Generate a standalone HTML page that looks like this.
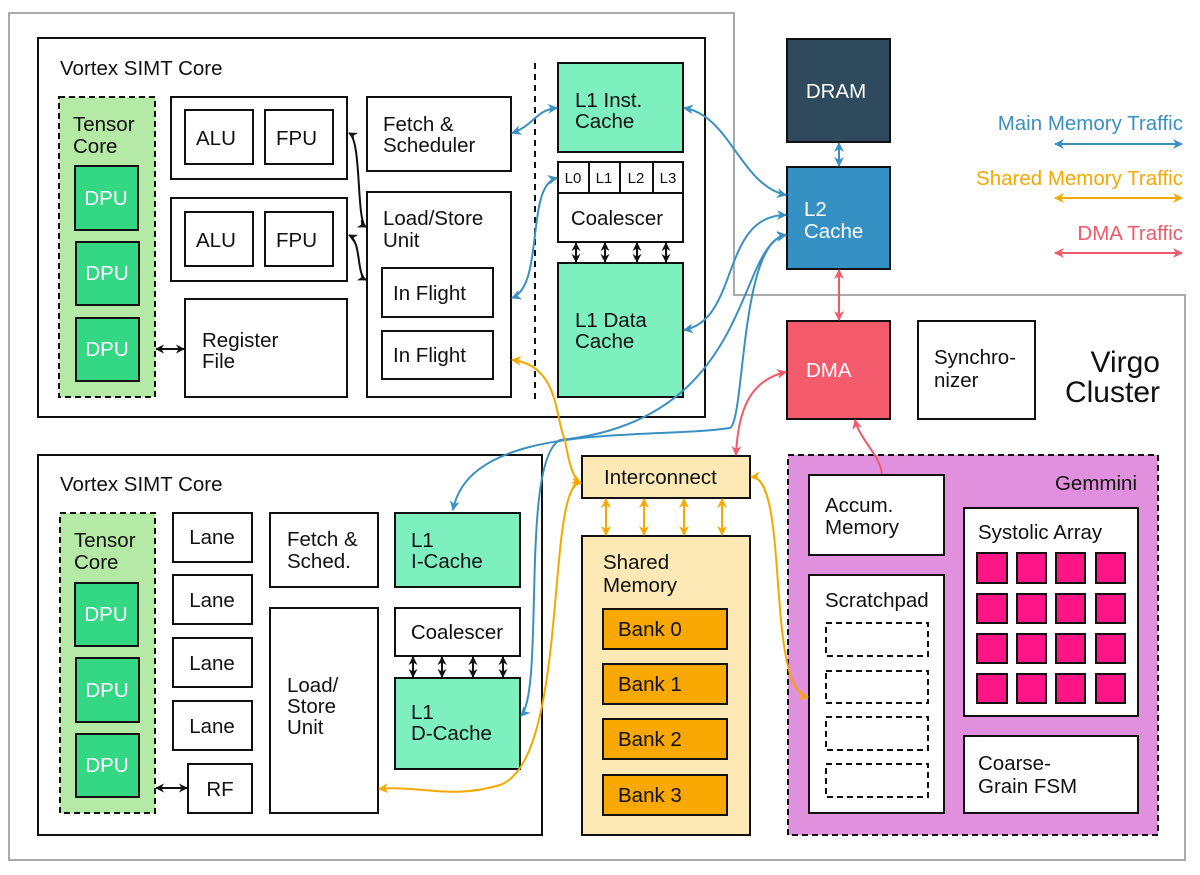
<!DOCTYPE html>
<html><head><meta charset="utf-8"><style>html,body{margin:0;padding:0;background:#fff}svg{display:block}</style></head>
<body>
<svg width="1200" height="875" viewBox="0 0 1200 875" xmlns="http://www.w3.org/2000/svg" font-family="Liberation Sans, sans-serif" font-size="20.5">
<defs>
<marker id="mk" viewBox="0 0 10 10" refX="9" refY="5" markerWidth="9" markerHeight="9" markerUnits="userSpaceOnUse" orient="auto-start-reverse"><path d="M0,0 L10,5 L0,10 L3,5 z" fill="#111"/></marker>
<marker id="mb" viewBox="0 0 10 10" refX="9" refY="5" markerWidth="10" markerHeight="10" markerUnits="userSpaceOnUse" orient="auto-start-reverse"><path d="M0,0 L10,5 L0,10 L3,5 z" fill="#3a90c0"/></marker>
<marker id="mo" viewBox="0 0 10 10" refX="9" refY="5" markerWidth="10" markerHeight="10" markerUnits="userSpaceOnUse" orient="auto-start-reverse"><path d="M0,0 L10,5 L0,10 L3,5 z" fill="#f5a800"/></marker>
<marker id="mr" viewBox="0 0 10 10" refX="9" refY="5" markerWidth="10" markerHeight="10" markerUnits="userSpaceOnUse" orient="auto-start-reverse"><path d="M0,0 L10,5 L0,10 L3,5 z" fill="#f05a6a"/></marker>
</defs>
<path d="M9,13 H734 V295 H1185 V860 H9 Z" fill="none" stroke="#aaa" stroke-width="2"/>

<g stroke="#111" stroke-width="2">
<rect x="38" y="38" width="667" height="379" fill="#fff"/>
<rect x="59" y="97" width="96" height="300" fill="#b4eaa6" stroke-dasharray="6,4"/>
<rect x="75" y="166" width="63" height="64" fill="#34d884"/>
<rect x="76" y="242" width="63" height="63" fill="#34d884"/>
<rect x="76" y="318" width="63" height="63" fill="#34d884"/>
<rect x="171" y="97" width="176" height="82" fill="#fff"/>
<rect x="185" y="110" width="68" height="54" fill="#fff"/>
<rect x="265" y="110" width="68" height="54" fill="#fff"/>
<rect x="171" y="198" width="176" height="83" fill="#fff"/>
<rect x="185" y="212" width="68" height="54" fill="#fff"/>
<rect x="265" y="212" width="68" height="54" fill="#fff"/>
<rect x="185" y="299" width="162" height="98" fill="#fff"/>
<rect x="367" y="97" width="144" height="74" fill="#fff"/>
<rect x="367" y="192" width="144" height="205" fill="#fff"/>
<rect x="382" y="268" width="111" height="49" fill="#fff"/>
<rect x="382" y="331" width="111" height="48" fill="#fff"/>
<line x1="535" y1="63" x2="535" y2="402" stroke-dasharray="6,5"/>
<rect x="558" y="63" width="125" height="89" fill="#7ef0c0"/>
<rect x="558" y="162" width="125" height="31" fill="#fff"/>
<line x1="589" y1="162" x2="589" y2="193"/><line x1="620" y1="162" x2="620" y2="193"/><line x1="653" y1="162" x2="653" y2="193"/>
<rect x="558" y="193" width="125" height="49" fill="#fff"/>
<rect x="558" y="263" width="125" height="134" fill="#7ef0c0"/>

<rect x="787" y="39" width="103" height="103" fill="#2e4a5c"/>
<rect x="787" y="167" width="103" height="102" fill="#3590c4"/>
<rect x="787" y="321" width="103" height="98" fill="#f45b6c"/>
<rect x="918" y="321" width="117" height="98" fill="#fff"/>

<rect x="38" y="455" width="504" height="380" fill="#fff"/>
<rect x="60" y="513" width="95" height="300" fill="#b4eaa6" stroke-dasharray="6,4"/>
<rect x="75" y="583" width="63" height="63" fill="#34d884"/>
<rect x="76" y="658" width="63" height="64" fill="#34d884"/>
<rect x="76" y="734" width="63" height="63" fill="#34d884"/>
<rect x="173" y="513" width="79" height="49" fill="#fff"/>
<rect x="173" y="575" width="79" height="49" fill="#fff"/>
<rect x="173" y="638" width="79" height="49" fill="#fff"/>
<rect x="173" y="701" width="79" height="49" fill="#fff"/>
<rect x="188" y="764" width="64" height="49" fill="#fff"/>
<rect x="270" y="513" width="108" height="74" fill="#fff"/>
<rect x="270" y="608" width="108" height="205" fill="#fff"/>
<rect x="395" y="513" width="125" height="74" fill="#7ef0c0"/>
<rect x="395" y="608" width="125" height="48" fill="#fff"/>
<rect x="395" y="678" width="125" height="91" fill="#7ef0c0"/>

<rect x="582" y="456" width="168" height="42" fill="#fde9b5"/>
<rect x="582" y="536" width="168" height="299" fill="#fde9b5"/>
<rect x="603" y="609" width="124" height="40" fill="#f8a800"/>
<rect x="603" y="664" width="124" height="40" fill="#f8a800"/>
<rect x="603" y="719" width="124" height="40" fill="#f8a800"/>
<rect x="603" y="775" width="124" height="40" fill="#f8a800"/>

<rect x="788" y="455" width="370" height="380" fill="#e090dc" stroke-dasharray="6,4"/>
<rect x="809" y="475" width="135" height="80" fill="#fff"/>
<rect x="809" y="575" width="135" height="238" fill="#fff"/>
<g stroke-dasharray="6,4" fill="none">
<rect x="826" y="623" width="102" height="33"/><rect x="826" y="671" width="102" height="32"/>
<rect x="826" y="717" width="102" height="33"/><rect x="826" y="764" width="102" height="33"/>
</g>
<rect x="964" y="508" width="174" height="208" fill="#fff"/>
<rect x="964" y="736" width="174" height="77" fill="#fff"/>
<g fill="#ff1585">
<rect x="977" y="553" width="30" height="30"/><rect x="1017" y="553" width="29" height="30"/><rect x="1056" y="553" width="29" height="30"/><rect x="1096" y="553" width="29" height="30"/>
<rect x="977" y="594" width="30" height="29"/><rect x="1017" y="594" width="29" height="29"/><rect x="1056" y="594" width="29" height="29"/><rect x="1096" y="594" width="29" height="29"/>
<rect x="977" y="634" width="30" height="29"/><rect x="1017" y="634" width="29" height="29"/><rect x="1056" y="634" width="29" height="29"/><rect x="1096" y="634" width="29" height="29"/>
<rect x="977" y="674" width="30" height="29"/><rect x="1017" y="674" width="29" height="29"/><rect x="1056" y="674" width="29" height="29"/><rect x="1096" y="674" width="29" height="29"/>
</g>
</g>

<g stroke="#111" stroke-width="2" fill="none" marker-start="url(#mk)" marker-end="url(#mk)">
<line x1="156" y1="349" x2="184" y2="349"/>
<line x1="156" y1="788" x2="187" y2="788"/>
<path d="M349,133 C362,140 356,222 366,227"/>
<path d="M349,235 C362,242 356,275 366,280"/>
<line x1="576" y1="243" x2="576" y2="262"/><line x1="605" y1="243" x2="605" y2="262"/>
<line x1="637" y1="243" x2="637" y2="262"/><line x1="666" y1="243" x2="666" y2="262"/>
<line x1="413" y1="657" x2="413" y2="677"/><line x1="442" y1="657" x2="442" y2="677"/>
<line x1="473" y1="657" x2="473" y2="677"/><line x1="503" y1="657" x2="503" y2="677"/>
</g>

<g stroke="#3a90c0" stroke-width="2" fill="none" marker-start="url(#mb)" marker-end="url(#mb)">
<path d="M512,133 C535,125 535,110 557,108"/>
<path d="M512,298 C545,285 525,185 557,178"/>
<path d="M684,108 C730,115 740,185 786,195"/>
<path d="M684,330 C740,320 720,215 786,215"/>
<line x1="839" y1="143" x2="839" y2="166"/>
<path d="M786,235 C740,240 745,420 730,428 C650,440 470,420 453,510"/>
<path d="M786,235 C735,245 755,420 560,440 C520,460 545,690 521,716"/>
<line x1="1055" y1="144" x2="1182" y2="144"/>
</g>
<g stroke="#f5a800" stroke-width="2" fill="none" marker-start="url(#mo)" marker-end="url(#mo)">
<path d="M512,360 C560,365 555,420 565,440 C570,470 575,480 581,483"/>
<path d="M581,483 C545,480 570,760 500,785 C450,800 420,785 379,789"/>
<path d="M751,477 C790,475 765,690 808,697"/>
<line x1="606" y1="499" x2="606" y2="535"/><line x1="644" y1="499" x2="644" y2="535"/>
<line x1="684" y1="499" x2="684" y2="535"/><line x1="722" y1="499" x2="722" y2="535"/>
<line x1="1055" y1="198" x2="1182" y2="198"/>
</g>
<g stroke="#f05a6a" stroke-width="2" fill="none">
<line x1="839" y1="270" x2="839" y2="320" marker-start="url(#mr)" marker-end="url(#mr)"/>
<path d="M786,372 C750,380 738,410 736,455" marker-start="url(#mr)" marker-end="url(#mr)"/>
<path d="M882,474 C880,455 860,440 855,420" marker-end="url(#mr)"/>
<line x1="1055" y1="253" x2="1182" y2="253" marker-start="url(#mr)" marker-end="url(#mr)"/>
</g>

<g fill="#111">
<text x="60" y="75">Vortex SIMT Core</text>
<text x="73" y="131">Tensor</text><text x="73" y="153">Core</text>
<text x="196" y="145">ALU</text><text x="276" y="145">FPU</text>
<text x="196" y="247">ALU</text><text x="276" y="247">FPU</text>
<text x="202" y="347">Register</text><text x="202" y="368">File</text>
<text x="383" y="131">Fetch &amp;</text><text x="383" y="152">Scheduler</text>
<text x="383" y="225">Load/Store</text><text x="383" y="247">Unit</text>
<text x="393" y="300">In Flight</text><text x="393" y="362">In Flight</text>
<text x="575" y="107">L1 Inst.</text><text x="575" y="128">Cache</text>
<g font-size="15"><text x="573" y="183" text-anchor="middle">L0</text><text x="604" y="183" text-anchor="middle">L1</text><text x="636" y="183" text-anchor="middle">L2</text><text x="668" y="183" text-anchor="middle">L3</text></g>
<text x="617" y="225" text-anchor="middle">Coalescer</text>
<text x="575" y="327">L1 Data</text><text x="575" y="348">Cache</text>
<text x="934" y="364">Synchro-</text><text x="934" y="387">nizer</text>
<text x="1160" y="372" font-size="30" text-anchor="end">Virgo</text>
<text x="1160" y="402" font-size="30" text-anchor="end">Cluster</text>

<text x="60" y="491">Vortex SIMT Core</text>
<text x="74" y="547">Tensor</text><text x="74" y="569">Core</text>
<text x="212" y="544" text-anchor="middle">Lane</text><text x="212" y="607" text-anchor="middle">Lane</text>
<text x="212" y="670" text-anchor="middle">Lane</text><text x="212" y="733" text-anchor="middle">Lane</text>
<text x="220" y="796" text-anchor="middle">RF</text>
<text x="287" y="546">Fetch &amp;</text><text x="287" y="568">Sched.</text>
<text x="287" y="692">Load/</text><text x="287" y="713">Store</text><text x="287" y="734">Unit</text>
<text x="411" y="547">L1</text><text x="411" y="568">I-Cache</text>
<text x="457" y="639" text-anchor="middle">Coalescer</text>
<text x="411" y="719">L1</text><text x="411" y="740">D-Cache</text>
<text x="604" y="484">Interconnect</text>
<text x="603" y="569">Shared</text><text x="603" y="592">Memory</text>
<text x="618" y="636">Bank 0</text><text x="618" y="691">Bank 1</text><text x="618" y="746">Bank 2</text><text x="618" y="802">Bank 3</text>
<text x="1137" y="490" text-anchor="end">Gemmini</text>
<text x="825" y="512">Accum.</text><text x="825" y="534">Memory</text>
<text x="825" y="607">Scratchpad</text>
<text x="978" y="539">Systolic Array</text>
<text x="978" y="770">Coarse-</text><text x="978" y="793">Grain FSM</text>
</g>
<g fill="#fff">
<text x="106" y="205" text-anchor="middle">DPU</text><text x="107" y="280" text-anchor="middle">DPU</text><text x="107" y="356" text-anchor="middle">DPU</text>
<text x="106" y="621" text-anchor="middle">DPU</text><text x="107" y="697" text-anchor="middle">DPU</text><text x="107" y="772" text-anchor="middle">DPU</text>
<text x="836" y="98" text-anchor="middle">DRAM</text>
<text x="804" y="216">L2</text><text x="804" y="238">Cache</text>
<text x="806" y="377">DMA</text>
</g>
<text x="1183" y="130" text-anchor="end" fill="#3a90c0">Main Memory Traffic</text>
<text x="1183" y="185" text-anchor="end" fill="#f5a800">Shared Memory Traffic</text>
<text x="1183" y="240" text-anchor="end" fill="#f05a6a">DMA Traffic</text>
</svg>
</body></html>
